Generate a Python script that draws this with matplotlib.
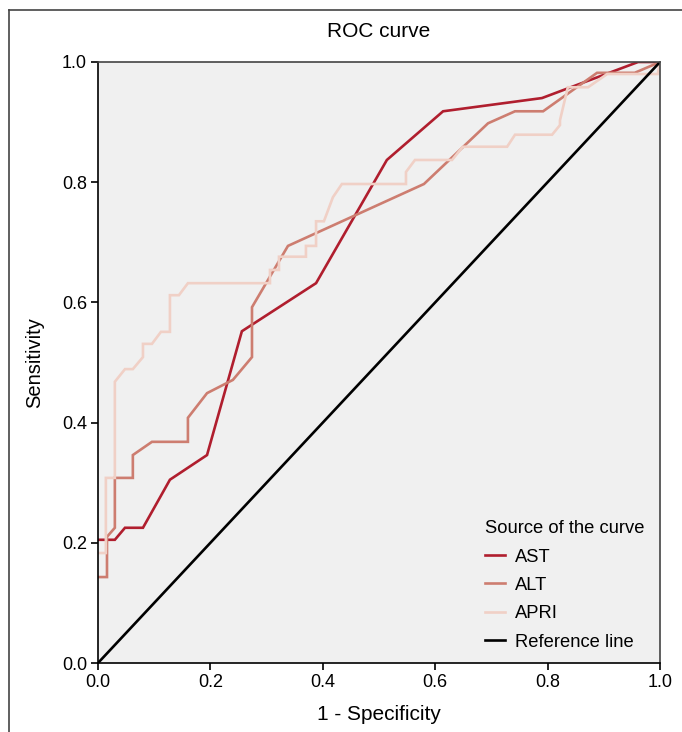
import matplotlib
matplotlib.use("Agg")
import matplotlib.pyplot as plt
from matplotlib.lines import Line2D

plt.rcParams['font.family'] = ['Liberation Sans', 'DejaVu Sans']

# curve coordinates (1 - specificity, sensitivity)
ast_x = [0.0, 0.030, 0.048, 0.080, 0.128, 0.194, 0.256, 0.388, 0.514, 0.614, 0.790, 0.961, 1.0]
ast_y = [0.205, 0.205, 0.225, 0.225, 0.305, 0.346, 0.552, 0.632, 0.837, 0.918, 0.940, 1.0, 1.0]

alt_x = [0.0, 0.016, 0.016, 0.030, 0.030, 0.062, 0.062, 0.096, 0.160, 0.160, 0.194, 0.240,
         0.274, 0.274, 0.338, 0.580, 0.694, 0.742, 0.792, 0.888, 0.955, 1.0]
alt_y = [0.143, 0.143, 0.210, 0.225, 0.308, 0.308, 0.346, 0.368, 0.368, 0.408, 0.449, 0.471,
         0.509, 0.592, 0.694, 0.797, 0.898, 0.918, 0.918, 0.982, 0.982, 1.0]

apri_x = [0.0, 0.014, 0.014, 0.030, 0.030, 0.048, 0.062, 0.080, 0.080, 0.096, 0.112, 0.128,
          0.128, 0.144, 0.160, 0.306, 0.306, 0.322, 0.322, 0.370, 0.370, 0.388, 0.388, 0.402,
          0.418, 0.434, 0.548, 0.548, 0.564, 0.630, 0.649, 0.728, 0.742, 0.808, 0.822, 0.822,
          0.836, 0.872, 0.906, 0.996, 1.0]
apri_y = [0.183, 0.183, 0.308, 0.308, 0.468, 0.489, 0.489, 0.509, 0.531, 0.531, 0.551, 0.551,
          0.612, 0.612, 0.632, 0.632, 0.654, 0.654, 0.676, 0.676, 0.694, 0.694, 0.735, 0.735,
          0.775, 0.797, 0.797, 0.817, 0.837, 0.837, 0.859, 0.859, 0.879, 0.879, 0.895, 0.903,
          0.958, 0.958, 0.980, 0.980, 1.0]

ref_x = [0.0, 1.0]
ref_y = [0.0, 1.0]

ticks = [0.0, 0.2, 0.4, 0.6, 0.8, 1.0]
tick_labels = ["0.0", "0.2", "0.4", "0.6", "0.8", "1.0"]

fig = plt.figure(figsize=(6.82, 7.32), dpi=100)
ax = fig.add_axes([98/682, 69/732, 562/682, 601/732])
ax.set_facecolor('#f0f0f0')

lw = 1.9
ax.plot(ast_x, ast_y, color='#b01e2e', lw=lw, label='AST', solid_joinstyle='miter')
ax.plot(alt_x, alt_y, color='#cd7d70', lw=lw, label='ALT', solid_joinstyle='miter')
ax.plot(apri_x, apri_y, color='#f0d0c6', lw=lw, label='APRI', solid_joinstyle='miter')
ax.plot(ref_x, ref_y, color='black', lw=lw, label='Reference line')

ax.set_xlim(0, 1)
ax.set_ylim(0, 1)
ax.set_xticks(ticks)
ax.set_xticklabels(tick_labels)
ax.set_yticks(ticks)
ax.set_yticklabels(tick_labels)
ax.tick_params(direction='out', length=5, width=1.2, labelsize=13, colors='black', pad=3)

for side in ['left', 'bottom']:
    ax.spines[side].set_color('black')
    ax.spines[side].set_linewidth(1.2)
for side in ['top', 'right']:
    ax.spines[side].set_color('#444444')
    ax.spines[side].set_linewidth(1.2)

ax.set_title("ROC curve", fontsize=15, pad=18)
ax.set_xlabel("1 - Specificity", fontsize=15, labelpad=10)
ax.set_ylabel("Sensitivity", fontsize=14.5, labelpad=13)

leg = ax.legend(title="Source of the curve", loc='upper left',
                bbox_to_anchor=((476-98)/562, (663-511)/601),
                frameon=False, fontsize=13.2, title_fontsize=13.2,
                borderpad=0, handlelength=1.1, handletextpad=0.5,
                labelspacing=0.62, alignment='left')

# outer frame (left and top edges only, as in the cropped reference)
fx = 9/682
fy = 1 - 10/732
fig.add_artist(Line2D([fx, fx], [0, fy], transform=fig.transFigure, color='#444444', lw=1.2))
fig.add_artist(Line2D([fx, 1], [fy, fy], transform=fig.transFigure, color='#444444', lw=1.2))

fig.savefig("out.png", dpi=100)
